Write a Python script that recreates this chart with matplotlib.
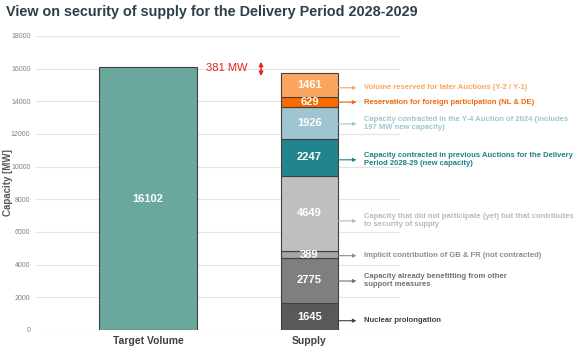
import matplotlib.pyplot as plt
import numpy as np

plt.rcParams['font.family'] = ['Liberation Sans', 'DejaVu Sans']

categories = ['Target Volume', 'Supply']
target_value = 16102
supply_values = [1645, 2775, 389, 4649, 2247, 1926, 629, 1461]
supply_colors = ['#595959', '#7f7f7f', '#a6a6a6', '#bfbfbf', '#21858e', '#9ec5d0', '#fa6a00', '#fba65e']
label_colors = ['#404040', '#707070', '#8c8c8c', '#b8b8b8', '#1f7f89', '#9ec5d0', '#f06a0a', '#fba65e']
supply_texts = [
    'Nuclear prolongation',
    'Capacity already benefitting from other\nsupport measures',
    'Implicit contribution of GB & FR (not contracted)',
    'Capacity that did not participate (yet) but that contributes\nto security of supply',
    'Capacity contracted in previous Auctions for the Delivery\nPeriod 2028-29 (new capacity)',
    'Capacity contracted in the Y-4 Auction of 2024 (includes\n197 MW new capacity)',
    'Reservation for foreign participation (NL & DE)',
    'Volume reserved for later Auctions (Y-2 / Y-1)',
]
# y where each arrow points
arrow_y = [570, 3000, 4550, 6680, 10420, 12620, 13950, 14830]
gap = target_value - sum(supply_values)

fig = plt.figure(figsize=(5.77, 3.58), dpi=100)
ax = fig.add_axes([36 / 577, 28 / 358, 364 / 577, 294 / 358])

ax.bar(0, target_value, width=0.607, color='#6aa89e', edgecolor='#404040', linewidth=0.8, zorder=2)
ax.text(0, target_value / 2, str(target_value), color='white', fontsize=8, fontweight='bold',
        ha='center', va='center')

bottoms = np.concatenate([[0], np.cumsum(supply_values)[:-1]])
for v, b, c, lc, t, ay in zip(supply_values, bottoms, supply_colors, label_colors, supply_texts, arrow_y):
    ax.bar(1, v, bottom=b, width=0.353, color=c, edgecolor='#404040', linewidth=0.8, zorder=2)
    ax.text(1, b + v / 2, str(v), color='white', fontsize=8, fontweight='bold',
            ha='center', va='center', zorder=3)
    ax.annotate('', xy=(1.29, ay), xytext=(1.177, ay),
                arrowprops=dict(arrowstyle='-|>', color=lc, lw=0.8, mutation_scale=5,
                                shrinkA=0, shrinkB=0),
                annotation_clip=False)
    ax.text(1.34, ay, t, color=lc, fontsize=5.5, fontweight='bold', ha='left', va='center',
            linespacing=1.2, clip_on=False)

ax.text(0.49, 16040, f'{gap} MW', color='#e8201c', fontsize=8, ha='center', va='center')
ax.annotate('', xy=(0.70, 16420), xytext=(0.70, 15550),
            arrowprops=dict(arrowstyle='<|-|>', color='#e8201c', lw=1.0, mutation_scale=6,
                            shrinkA=0, shrinkB=0))

ax.set_xlim(-0.693, 1.56)
ax.set_ylim(0, 18000)
ax.set_yticks(np.arange(0, 18001, 2000))
ax.set_xticks([0, 1])
ax.set_xticklabels(categories, fontsize=7.5, fontweight='bold', color='#404040')
ax.tick_params(axis='y', labelsize=5, labelcolor='#808080', length=0, pad=4)
ax.tick_params(axis='x', length=0, pad=4)
ax.grid(axis='y', color='#e3e3e3', lw=0.8, zorder=0)
ax.set_axisbelow(True)
for s in ax.spines.values():
    s.set_visible(False)
fig.text(8 / 577, 1 - 183 / 358, 'Capacity [MW]', rotation=90, fontsize=7, fontweight='bold',
         color='#595959', ha='center', va='center')

fig.text(6 / 577, 1 - 12 / 358, 'View on security of supply for the Delivery Period 2028-2029',
         fontsize=10.4, fontweight='bold', color='#2f3f48', ha='left', va='center')

fig.savefig('out.png', dpi=100)
